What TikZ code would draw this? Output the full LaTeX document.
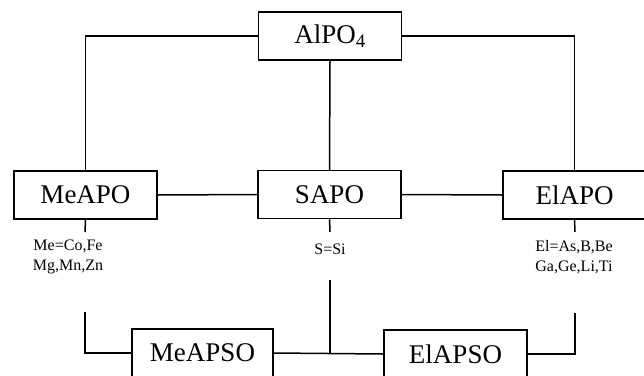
\documentclass[tikz,border=0pt]{standalone}
\usepackage{fontspec}
\setmainfont{Liberation Serif}
\begin{document}
\begin{tikzpicture}[x=1pt,y=-1pt,
  box/.style={draw,line width=1.5pt,minimum width=143pt,minimum height=48pt,inner sep=0pt,font=\fontsize{27}{30}\selectfont},
  lab/.style={align=center,inner sep=0pt,font=\fontsize{16}{19.5}\selectfont},
  conn/.style={line width=1.5pt}]
\useasboundingbox (0,0) rectangle (644,375);
\node[box] (al) at (330,36) {AlPO\textsubscript{4}};
\node[box] (meapo) at (85.5,195) {MeAPO};
\node[box] (sapo) at (329.5,194.5) {SAPO};
\node[box] (elapo) at (574.5,195) {ElAPO};
\node[box,minimum width=141pt] (meapso) at (202.5,353) {MeAPSO};
\node[box] (elapso) at (455.5,354) {ElAPSO};
\node[lab] (melab) at (68,257) {Me=Co,Fe\\Mg,Mn,Zn};
\node[lab] (slab) at (330,249) {S=Si};
\node[lab] (ellab) at (574,257) {El=As,B,Be\\Ga,Ge,Li,Ti};
\coordinate (m1) at (85,232);
\coordinate (m2) at (85,312);
\coordinate (s1) at (330,232);
\coordinate (s2) at (330,280);
\coordinate (e1) at (575,232);
\coordinate (e2) at (575,313);
\draw[conn] (al.west) -| (meapo.north);
\draw[conn] (al.east) -| (elapo.north);
\draw[conn] (al.south) -- (sapo.north);
\draw[conn] (meapo.east) -- (sapo.west);
\draw[conn] (sapo.east) -- (elapo.west);
\draw[conn] (meapo.south) -- (m1);
\draw[conn] (sapo.south) -- (s1);
\draw[conn] (elapo.south) -- (e1);
\draw[conn] (m2) |- (meapso.west);
\draw[conn] (e2) |- (elapso.east);
\draw[conn] (meapso.east) -- (elapso.west);
\draw[conn] (s2) -- (s2 |- meapso.east);
\end{tikzpicture}
\end{document}
